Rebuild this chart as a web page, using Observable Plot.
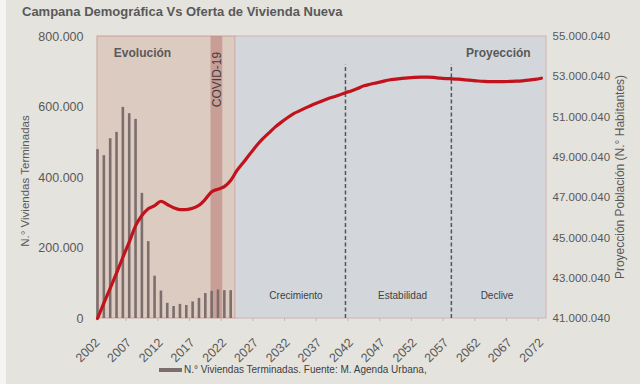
<!DOCTYPE html>
<html><head><meta charset="utf-8">
<script src="https://cdn.jsdelivr.net/npm/d3@7"></script>
<script src="https://cdn.jsdelivr.net/npm/@observablehq/plot@0.6"></script>
<style>
body{margin:0;background:#e5e3dd;font-family:"Liberation Sans",Arial,sans-serif;}
#wrap{position:relative;width:640px;height:384px;overflow:hidden;background:#e5e3dd;}
#strip{position:absolute;left:0;top:0;width:6px;height:384px;background:#f4f4f2;}
#chart{position:absolute;left:0;top:0;}
#title{position:absolute;left:22px;top:4px;font-size:13px;font-weight:bold;color:#595959;white-space:nowrap;}
.ylab{position:absolute;color:#595959;white-space:nowrap;transform:translate(-50%,-50%) rotate(-90deg);}
#legend{position:absolute;left:159px;top:364px;font-size:10px;color:#404040;display:flex;align-items:center;white-space:nowrap;}
#legend .sw{display:inline-block;width:23px;height:4px;background:#7b6e6d;margin-right:2px;}
</style></head><body>
<div id="wrap">
  <div id="strip"></div>
  <div id="chart"></div>
  <div id="title">Campana Demográfica Vs Oferta de Vivienda Nueva</div>
  <div class="ylab" style="left:25px;top:181px;font-size:11.5px">N.° Viviendas Terminadas</div>
  <div class="ylab" style="left:620px;top:177px;font-size:12px">Proyección Población (N.° Habitantes)</div>
  <div id="legend"><span class="sw"></span>N.° Viviendas Terminadas. Fuente: M. Agenda Urbana,</div>
</div>
<script>
// ---- data ----
const barYears = [2002,2003,2004,2005,2006,2007,2008,2009,2010,2011,2012,2013,2014,2015,2016,2017,2018,2019,2020,2021,2022,2023];
const viviendas = [479000,462000,510000,528000,599000,581000,565000,355000,218000,120000,78000,43000,34000,40000,37000,47000,57000,71000,77000,81000,79000,79000];

const popYears = [2002,2003,2004,2005,2006,2007,2008,2009,2010,2011,2012,2013,2014,2015,2016,2017,2018,2019,2020,2021,2022,2023,2024,2025,2026,2027,2028,2029,2030,2031,2032,2033,2034,2035,2036,2037,2038,2039,2040,2041,2042,2043,2044,2045,2046,2047,2048,2049,2050,2051,2052,2053,2054,2055,2056,2057,2058,2059,2060,2061,2062,2063,2064,2065,2066,2067,2068,2069,2070,2071,2072];
const poblacion = [41000040,41760000,42500000,43250000,44040000,44790000,45600000,46110000,46450000,46600000,46820000,46660000,46500000,46410000,46410000,46470000,46620000,46920000,47290000,47420000,47550000,47850000,48350000,48750000,49150000,49550000,49900000,50200000,50500000,50750000,50980000,51180000,51330000,51480000,51620000,51750000,51870000,51980000,52080000,52200000,52300000,52420000,52550000,52630000,52700000,52770000,52840000,52880000,52920000,52950000,52970000,52980000,52980000,52970000,52930000,52910000,52900000,52880000,52850000,52820000,52790000,52770000,52760000,52760000,52760000,52770000,52780000,52800000,52830000,52870000,52930000];

const leftTicks = [0,200000,400000,600000,800000];
const rightTicks = [41000040,43000040,45000040,47000040,49000040,51000040,53000040,55000040];
const xTicks = [2002,2007,2012,2017,2022,2027,2032,2037,2042,2047,2052,2057,2062,2067,2072];
const minorTicks = [2006.5,2011.5,2016.5,2021.5,2026.5,2031.5,2036.5,2041.5,2046.5,2051.5,2056.5,2061.5,2066.5,2071.5];

const evolucion = [{start:2002, end:2023.75}];
const proyeccion = [{start:2023.75, end:2072.8}];
const covid = [{start:2019.9, end:2021.75}];
const phaseLines = [2041.1, 2057.8];
const zoneLabels = [{t:"Evolución", x:2009.1}, {t:"Proyección", x:2065.2}];
const phases = [{t:"Crecimiento", x:2033.3}, {t:"Estabilidad", x:2050.1}, {t:"Declive", x:2065.0}];
const covidLabel = [{t:"COVID-19", x:2020.85}];

// ---- helpers ----
const popMin = 41000040, popMax = 55000040, leftMax = 800000;
const toLeft = p => (p - popMin) / (popMax - popMin) * leftMax;
const fromLeft = v => Math.round(v / leftMax * (popMax - popMin) + popMin);
const es = d3.formatLocale({decimal:",", thousands:".", grouping:[3], currency:["","€"]});
const fmt = es.format(",.0f");

const bars = barYears.map((y,i)=>({year:y, value:viviendas[i]}));
const pop = popYears.map((y,i)=>({year:y, v:toLeft(poblacion[i])}));

const chart = Plot.plot({
  width:640, height:384,
  marginLeft:97, marginRight:94, marginTop:36, marginBottom:66,
  style:{background:"transparent", fontFamily:"Liberation Sans, Arial, sans-serif", color:"#595959"},
  x:{domain:[2002,2072.8], label:null},
  y:{domain:[0,800000], label:null},
  marks:[
    Plot.rect(evolucion, {x1:"start", x2:"end", y1:0, y2:leftMax, fill:"#dccbc1", stroke:"#c9a19b", strokeWidth:1}),
    Plot.rect(proyeccion, {x1:"start", x2:"end", y1:0, y2:leftMax, fill:"#d3d7db", stroke:"#d2b2ad", strokeWidth:1}),
    Plot.rect(covid, {x1:"start", x2:"end", y1:0, y2:leftMax, fill:"#c08a85", fillOpacity:0.7}),
    Plot.ruleX(phaseLines, {x:d=>d, y1:0, y2:720000, stroke:"#555", strokeDasharray:"4,2.5", strokeWidth:1.5}),
    Plot.ruleX(bars, {x:"year", y1:0, y2:"value", stroke:"#7b6e6d", strokeWidth:2.6}),
    Plot.line(pop, {x:"year", y:"v", stroke:"#c2121c", strokeWidth:3.2, curve:"monotone-x"}),
    Plot.text(zoneLabels, {x:"x", y:752000, text:"t", fontWeight:"bold", fontSize:12, fill:"#595959"}),
    Plot.text(phases, {x:"x", y:65000, text:"t", fontSize:10, fill:"#404040"}),
    Plot.text(covidLabel, {x:"x", y:678000, text:"t", rotate:-90, fontSize:12, fill:"#404040"}),
    Plot.axisY({anchor:"left", ticks:leftTicks, tickSize:0, tickPadding:14, tickFormat:fmt, fontSize:12.5, label:null}),
    Plot.axisY({anchor:"right", ticks:rightTicks.map(toLeft), tickSize:0, tickPadding:6, tickFormat:v=>fmt(fromLeft(v)), fontSize:11.5, label:null}),
    Plot.axisX({ticks:minorTicks, tickSize:3, tickFormat:()=>"", stroke:"#bdbab3", label:null}),
    Plot.axisX({ticks:xTicks, tickRotate:-45, tickSize:0, tickPadding:22, tickFormat:d=>String(d), fontSize:12.5, label:null})
  ]
});
document.getElementById("chart").appendChild(chart);
</script>
</body></html>
